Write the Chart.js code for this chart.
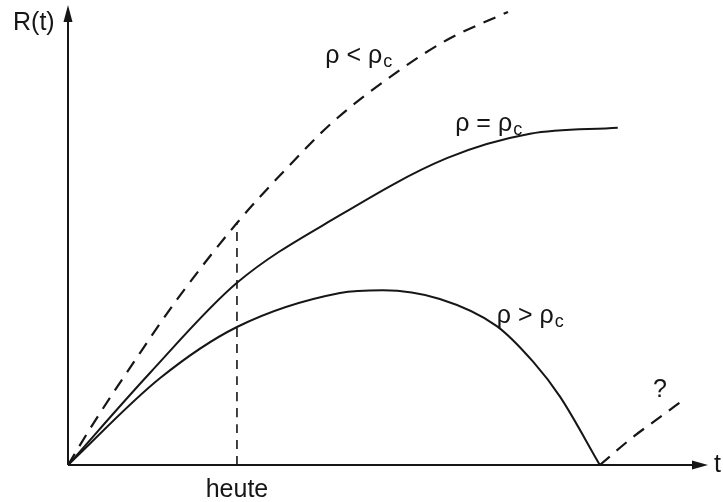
<!DOCTYPE html>
<html>
<head>
<meta charset="utf-8">
<script src="https://cdn.jsdelivr.net/npm/chart.js@4/dist/chart.umd.min.js"></script>
<style>
  html, body { margin: 0; padding: 0; background: #fff; }
  #wrap { width: 723px; height: 502px; }
</style>
</head>
<body>
<div id="wrap"><canvas id="c" width="723" height="502"></canvas></div>
<script>
// Data (arbitrary units: t on x from 0 to 10, R(t) on y from 0 to 10)
const openT  = [0, 0.39, 1.05, 1.70, 2.64, 3.39, 4.14, 5.19, 5.92, 6.875];
const openR  = [0, 0.89, 2.28, 3.59, 5.26, 6.41, 7.46, 8.59, 9.24, 9.85];

const flatT  = [0, 1.28, 2.64, 4.25, 5.92, 7.22, 8.59];
const flatR  = [0, 2.00, 3.96, 5.43, 6.67, 7.20, 7.33];

const closedT = [0, 1.44, 2.64, 4.25, 4.92, 5.81, 6.70, 7.27, 7.69, 8.31];
const closedR = [0, 1.89, 3.00, 3.74, 3.80, 3.61, 3.02, 2.24, 1.48, 0];

const bounceT = [8.31, 8.83, 9.25, 9.61];
const bounceR = [0, 0.61, 1.04, 1.41];

const todayT = 2.64;
const todayR = [0, 5.26];

const labels = {
  open:   {text: "ρ < ρ", sub: "c", t: 4.02, r: 8.74},
  flat:   {text: "ρ = ρ", sub: "c", t: 6.05, r: 7.26},
  closed: {text: "ρ > ρ", sub: "c", t: 6.70, r: 3.09},
  bounce: {text: "?", sub: "", t: 9.14, r: 1.48}
};
const axisX = "t", axisY = "R(t)", todayLabel = "heute";

const pts = (xs, ys) => xs.map((x, i) => ({x, y: ys[i]}));
const ink = "#161616";
const FONT = '"Liberation Sans", Arial, Helvetica, sans-serif';

const overlay = {
  id: 'overlay',
  beforeDatasetsDraw(chart) {
    const {ctx, scales: {x, y}} = chart;
    const x0 = x.getPixelForValue(0), y0 = y.getPixelForValue(0);
    const xe = x.getPixelForValue(10), ye = y.getPixelForValue(10);
    ctx.save();
    ctx.strokeStyle = ink; ctx.fillStyle = ink; ctx.lineWidth = 2;
    ctx.beginPath();
    ctx.moveTo(x0, y0); ctx.lineTo(xe - 10, y0);
    ctx.moveTo(x0, y0); ctx.lineTo(x0, ye + 10);
    ctx.stroke();
    ctx.beginPath();
    ctx.moveTo(xe, y0); ctx.lineTo(xe - 16, y0 - 4.5); ctx.lineTo(xe - 16, y0 + 4.5); ctx.closePath(); ctx.fill();
    ctx.beginPath();
    ctx.moveTo(x0, ye); ctx.lineTo(x0 - 4.5, ye + 17); ctx.lineTo(x0 + 4.5, ye + 17); ctx.closePath(); ctx.fill();
    ctx.restore();
  },
  afterDatasetsDraw(chart) {
    const {ctx, scales: {x, y}} = chart;
    const x0 = x.getPixelForValue(0), y0 = y.getPixelForValue(0);
    const xe = x.getPixelForValue(10);
    ctx.save();
    ctx.fillStyle = ink;
    ctx.textBaseline = 'alphabetic';
    ctx.font = '25px ' + FONT;
    ctx.textAlign = 'left';
    ctx.fillText(axisY, x0 - 55, 30);
    ctx.fillText(axisX, xe + 6, y0 + 7);
    ctx.textAlign = 'center';
    ctx.fillText(todayLabel, x.getPixelForValue(todayT), y0 + 32);
    ctx.textAlign = 'left';
    for (const k in labels) {
      const L = labels[k];
      const px = x.getPixelForValue(L.t), py = y.getPixelForValue(L.r);
      ctx.font = '25px ' + FONT;
      ctx.fillText(L.text, px, py);
      if (L.sub) {
        const w = ctx.measureText(L.text).width;
        ctx.font = '18px ' + FONT;
        ctx.fillText(L.sub, px + w + 1, py + 4);
      }
    }
    ctx.restore();
  }
};

const lineDs = (data, dash, width) => ({
  data, showLine: true, pointRadius: 0, borderColor: ink, borderWidth: width,
  borderDash: dash, cubicInterpolationMode: 'monotone', fill: false
});

new Chart(document.getElementById('c'), {
  type: 'scatter',
  data: {
    datasets: [
      lineDs(pts(openT, openR), [13, 9], 2.2),
      lineDs(pts(flatT, flatR), [], 2),
      lineDs(pts(closedT, closedR), [], 2),
      lineDs(pts(bounceT, bounceR), [13, 9], 2.2),
      lineDs(pts([todayT, todayT], todayR), [9, 7], 1.6)
    ]
  },
  options: {
    responsive: false,
    animation: false,
    layout: {padding: {left: 68, right: 15, top: 5, bottom: 37}},
    plugins: {legend: {display: false}, tooltip: {enabled: false}},
    scales: {
      x: {type: 'linear', min: 0, max: 10, display: false},
      y: {type: 'linear', min: 0, max: 10, display: false}
    }
  },
  plugins: [overlay]
});
</script>
</body>
</html>
